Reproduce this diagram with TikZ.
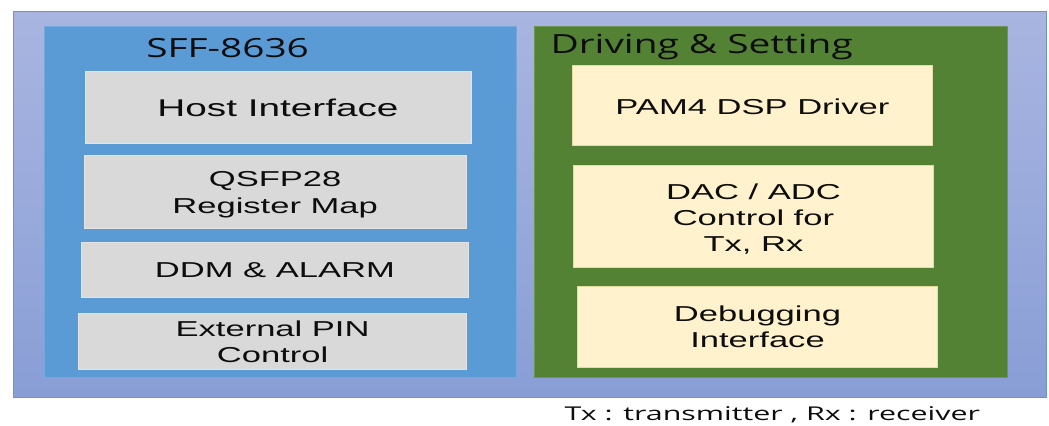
\documentclass[tikz,border=0pt]{standalone}
\usepackage{fontspec}
\setmainfont{Liberation Sans}
% wide faces for the block labels and headings
\newfontfamily\bodyfont[FakeStretch=1.6]{Liberation Sans}
\newfontfamily\headfont[FakeStretch=1.47]{Open Sans}
\newfontfamily\notefont[FakeStretch=1.6]{Open Sans}

\definecolor{frameTop}{HTML}{A9B5E0}
\definecolor{frameBot}{HTML}{899ED6}
\definecolor{frameLine}{HTML}{7090D0}
\definecolor{sffBlue}{HTML}{5B9BD5}
\definecolor{drvGreen}{HTML}{548235}
\definecolor{blockGray}{HTML}{D9D9D9}
\definecolor{blockCream}{HTML}{FFF2CC}
\definecolor{inkBlack}{HTML}{0D0D0D}

\tikzset{
  area/.style={inner sep=0pt, outer sep=0pt},
  outerframe/.style={draw=frameLine, line width=0.8bp, top color=frameTop, bottom color=frameBot},
  sffpanel/.style={area, fill=sffBlue, draw=sffBlue!85!white, line width=0.5bp},
  drvpanel/.style={area, fill=drvGreen, draw=drvGreen!85!white, line width=0.5bp},
  graybox/.style={area, fill=blockGray, draw=blockGray!70!white, line width=0.6bp},
  creambox/.style={area, fill=blockCream, draw=blockCream!80!olive, line width=0.6bp},
  lbl/.style={inner sep=0pt, anchor=base, text=inkBlack, font=\bodyfont\fontsize{21.6bp}{26bp}\selectfont},
  biglbl/.style={lbl, font=\bodyfont\fontsize{24.2bp}{26bp}\selectfont},
  head/.style={inner sep=0pt, anchor=base, text=inkBlack, font=\headfont\fontsize{26.4bp}{30bp}\selectfont},
  note/.style={inner sep=0pt, anchor=base, text=inkBlack, font=\notefont\fontsize{19bp}{22bp}\selectfont},
}

\begin{document}
\begin{tikzpicture}[x=1bp,y=-1bp]
\useasboundingbox (0,0) rectangle (1049,425);

% outer frame
\coordinate (frameNW) at (13.5,11.3);
\coordinate (frameSE) at (1046.7,397.3);
\path[outerframe] (frameNW) rectangle (frameSE);

% SFF-8636 side
\node[sffpanel, minimum width=472.4bp, minimum height=351.7bp] (sff) at (280.5,201.85) {};
\node[head] (sffT) at (227.6,57.7) {SFF-8636};

\node[graybox, minimum width=386.2bp, minimum height=72.7bp] (host) at (278,107.35) {};
\node[biglbl] (hostT) at (278,116.7) {Host Interface};

\node[graybox, minimum width=382.5bp, minimum height=73bp] (qsfp) at (275.15,191.8) {};
\node[lbl] (qsfpT1) at (275.15,186.7) {QSFP28};
\node[lbl] (qsfpT2) at (275.15,213.3) {Register Map};

\node[graybox, minimum width=387.5bp, minimum height=55.4bp] (ddm) at (274.95,270) {};
\node[lbl] (ddmT) at (274.95,277.7) {DDM \& ALARM};

\node[graybox, minimum width=387.6bp, minimum height=55.6bp] (pin) at (272.6,341.5) {};
\node[lbl] (pinT1) at (272.6,336.7) {External PIN};
\node[lbl] (pinT2) at (272.6,362.7) {Control};

% Driving & Setting side
\node[drvpanel, minimum width=473bp, minimum height=351.7bp] (drv) at (770.7,201.85) {};
\node[head, anchor=base west] (drvT) at (550.4,53.3) {Driving \& Setting};

\node[creambox, minimum width=360.3bp, minimum height=80bp] (pam) at (752.45,105.3) {};
\node[lbl] (pamT) at (752.45,114.3) {PAM4 DSP Driver};

\node[creambox, minimum width=360.3bp, minimum height=102.4bp] (dac) at (753.45,216.5) {};
\node[lbl] (dacT1) at (753.45,199) {DAC / ADC};
\node[lbl] (dacT2) at (753.45,225) {Control for};
\node[lbl] (dacT3) at (753.45,251) {Tx, Rx};

\node[creambox, minimum width=360.2bp, minimum height=80.6bp] (dbg) at (757.5,327) {};
\node[lbl] (dbgT1) at (757.5,321.7) {Debugging};
\node[lbl] (dbgT2) at (757.5,347.7) {Interface};

% abbreviation note under the frame
\node[note] (noteT) at (772.4,420.7) {Tx : transmitter , Rx : receiver};
\end{tikzpicture}
\end{document}
